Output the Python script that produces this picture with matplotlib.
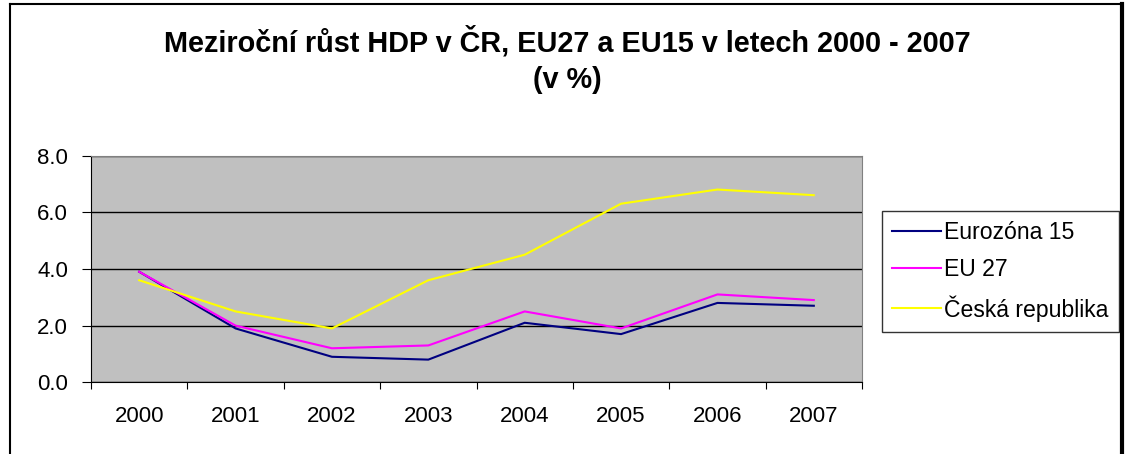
import matplotlib.pyplot as plt
from matplotlib.lines import Line2D

years = ["2000", "2001", "2002", "2003", "2004", "2005", "2006", "2007"]
eurozona15 = [3.9, 1.9, 0.9, 0.8, 2.1, 1.7, 2.8, 2.7]
eu27 = [3.9, 2.0, 1.2, 1.3, 2.5, 1.9, 3.1, 2.9]
cesko = [3.6, 2.5, 1.9, 3.6, 4.5, 6.3, 6.8, 6.6]

plt.rcParams["font.family"] = ["Liberation Sans", "DejaVu Sans"]

fig = plt.figure(figsize=(11.26, 4.54), dpi=100)

# outer chart border (Excel style, with shadow on the right)
fig.add_artist(Line2D([10 / 1126, 10 / 1126], [0, 1 - 4 / 454], color="black", lw=1.5))
fig.add_artist(Line2D([10 / 1126, 1122 / 1126], [1 - 4 / 454, 1 - 4 / 454], color="black", lw=1.5))
fig.add_artist(Line2D([1122 / 1126, 1122 / 1126], [0, 1 - 4 / 454], color="black", lw=3))

fig.text(567 / 1126, 1 - 42 / 454, "Meziroční růst HDP v ČR, EU27 a EU15 v letech 2000 - 2007",
         ha="center", va="center", fontsize=20.8, fontweight="bold")
fig.text(567 / 1126, 1 - 80 / 454, "(v %)", ha="center", va="center",
         fontsize=20.8, fontweight="bold")

ax = fig.add_axes([91 / 1126, 1 - 382.3 / 454, 771 / 1126, 226.8 / 454])
ax.set_facecolor("#C0C0C0")

x = range(len(years))
ax.plot(x, eurozona15, color="#000080", lw=1.5, label="Eurozóna 15")
ax.plot(x, eu27, color="#FF00FF", lw=1.5, label="EU 27")
ax.plot(x, cesko, color="#FFFF00", lw=1.5, label="Česká republika")

ax.set_xlim(-0.5, len(years) - 0.5)
ax.set_ylim(0, 8)
ax.set_yticks([0, 2, 4, 6, 8])
ax.set_yticklabels(["0.0", "2.0", "4.0", "6.0", "8.0"])
ax.yaxis.grid(True, color="black", lw=1)
ax.set_axisbelow(True)

ax.set_xticks([i - 0.5 for i in range(len(years) + 1)])
ax.set_xticklabels([])
ax.set_xticks(list(x), minor=True)
ax.set_xticklabels(years, minor=True)
ax.tick_params(axis="x", which="major", length=5, direction="out", color="black")
ax.tick_params(axis="x", which="minor", length=0, pad=17, labelsize=16)
ax.tick_params(axis="y", length=6.5, direction="out", labelsize=16, pad=10)

for side in ["top", "right"]:
    ax.spines[side].set_color("#808080")
for side in ["left", "bottom"]:
    ax.spines[side].set_color("black")

leg = fig.legend(loc="upper left", bbox_to_anchor=(882 / 1126, 1 - 211 / 454),
                 fontsize=16.6, frameon=True, fancybox=False, handlelength=2.1,
                 handletextpad=0.15, borderaxespad=0, labelspacing=0.6,
                 borderpad=0.45)
leg.get_frame().set_edgecolor("black")
leg.get_frame().set_linewidth(1)

fig.savefig("out.png", dpi=100)
